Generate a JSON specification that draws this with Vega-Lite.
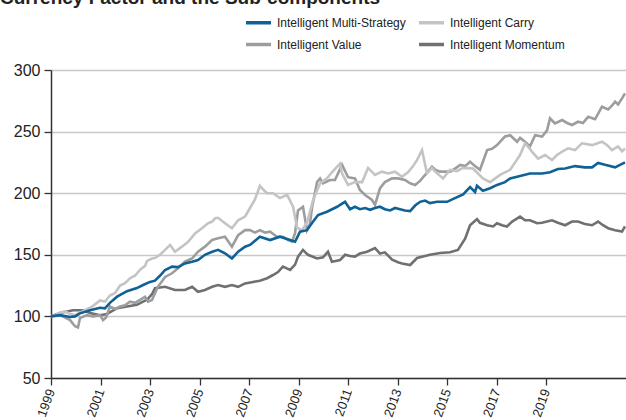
{
"$schema": "https://vega.github.io/schema/vega-lite/v6.json",
"width": 575, "height": 308,
"autosize": {"type": "none"},
"padding": {"left": 51, "top": 70, "right": 0, "bottom": 42},
"background": "white",
"title": {"text": "Currency Factor and the Sub-components", "anchor": "start", "frame": "group", "dx": -51, "offset": 0, "fontSize": 19, "fontWeight": "bold", "font": "Liberation Sans", "color": "#222222"},
"datasets": {
"m": [
{"d":1999.00,"v":100},{"d":1999.36,"v":102.7},{"d":1999.89,"v":105},{"d":2000.29,"v":105},{"d":2000.58,"v":102.7},{"d":2000.98,"v":101},{"d":2001.26,"v":102},{"d":2001.67,"v":106.7},{"d":2002.07,"v":108},{"d":2002.47,"v":109.4},{"d":2002.72,"v":112},{"d":2002.88,"v":113.5},{"d":2003.08,"v":118},{"d":2003.20,"v":122.8},{"d":2003.61,"v":124},{"d":2004.01,"v":121.4},{"d":2004.41,"v":121.4},{"d":2004.70,"v":124},{"d":2004.94,"v":120},{"d":2005.22,"v":121.4},{"d":2005.51,"v":124},{"d":2005.75,"v":125.5},{"d":2006.03,"v":124},{"d":2006.31,"v":125.5},{"d":2006.56,"v":124},{"d":2006.84,"v":126.8},{"d":2007.16,"v":128},{"d":2007.44,"v":129},{"d":2007.73,"v":131},{"d":2007.97,"v":133.6},{"d":2008.17,"v":136},{"d":2008.37,"v":140.4},{"d":2008.66,"v":137.7},{"d":2008.86,"v":142},{"d":2008.98,"v":148.5},{"d":2009.18,"v":154},{"d":2009.38,"v":150},{"d":2009.75,"v":147},{"d":2009.99,"v":148},{"d":2010.19,"v":152.5},{"d":2010.35,"v":144.4},{"d":2010.68,"v":145.8},{"d":2010.88,"v":150},{"d":2011.08,"v":149},{"d":2011.28,"v":148.5},{"d":2011.48,"v":151},{"d":2011.77,"v":152.5},{"d":2012.09,"v":155.5},{"d":2012.29,"v":151},{"d":2012.49,"v":152},{"d":2012.78,"v":146},{"d":2013.02,"v":144},{"d":2013.18,"v":143},{"d":2013.51,"v":141.7},{"d":2013.79,"v":147.4},{"d":2014.11,"v":149},{"d":2014.31,"v":150},{"d":2014.72,"v":151.5},{"d":2015.12,"v":152},{"d":2015.44,"v":154},{"d":2015.73,"v":163},{"d":2015.93,"v":174},{"d":2016.21,"v":179},{"d":2016.33,"v":176},{"d":2016.62,"v":174},{"d":2016.86,"v":173},{"d":2017.02,"v":175.6},{"d":2017.22,"v":174},{"d":2017.42,"v":173},{"d":2017.63,"v":177},{"d":2017.95,"v":181},{"d":2018.15,"v":178},{"d":2018.35,"v":178},{"d":2018.64,"v":175.6},{"d":2018.84,"v":176},{"d":2019.04,"v":177},{"d":2019.24,"v":178},{"d":2019.48,"v":176},{"d":2019.77,"v":174},{"d":2020.05,"v":177},{"d":2020.29,"v":177},{"d":2020.57,"v":175},{"d":2020.86,"v":174},{"d":2021.10,"v":177},{"d":2021.30,"v":174},{"d":2021.51,"v":171.6},{"d":2021.79,"v":170},{"d":2022.07,"v":168.8},{"d":2022.19,"v":173}
],
"val": [
{"d":1999.00,"v":100},{"d":1999.16,"v":101},{"d":1999.36,"v":101},{"d":1999.57,"v":99},{"d":1999.77,"v":97},{"d":1999.97,"v":92},{"d":2000.09,"v":91},{"d":2000.17,"v":98.6},{"d":2000.45,"v":101},{"d":2000.70,"v":100},{"d":2000.98,"v":101},{"d":2001.10,"v":97},{"d":2001.22,"v":99},{"d":2001.38,"v":108},{"d":2001.59,"v":106},{"d":2001.79,"v":108},{"d":2001.99,"v":109},{"d":2002.19,"v":112},{"d":2002.39,"v":111},{"d":2002.60,"v":113.5},{"d":2002.80,"v":116},{"d":2002.92,"v":112},{"d":2003.08,"v":113.3},{"d":2003.32,"v":124},{"d":2003.61,"v":132},{"d":2003.89,"v":135},{"d":2004.13,"v":139},{"d":2004.41,"v":144.4},{"d":2004.70,"v":147},{"d":2004.94,"v":152.5},{"d":2005.22,"v":156.6},{"d":2005.51,"v":162},{"d":2005.75,"v":163.4},{"d":2006.03,"v":164.7},{"d":2006.31,"v":156.6},{"d":2006.56,"v":166},{"d":2006.84,"v":170},{"d":2007.04,"v":170},{"d":2007.24,"v":168},{"d":2007.44,"v":170},{"d":2007.65,"v":168},{"d":2007.85,"v":168.8},{"d":2008.13,"v":164.7},{"d":2008.37,"v":164.7},{"d":2008.58,"v":162},{"d":2008.74,"v":160.7},{"d":2008.86,"v":167.5},{"d":2008.98,"v":186},{"d":2009.18,"v":189},{"d":2009.34,"v":170},{"d":2009.46,"v":175},{"d":2009.55,"v":189},{"d":2009.75,"v":209},{"d":2009.87,"v":212},{"d":2009.99,"v":208},{"d":2010.27,"v":210.7},{"d":2010.47,"v":210.7},{"d":2010.76,"v":223},{"d":2010.88,"v":218},{"d":2011.00,"v":213},{"d":2011.28,"v":212},{"d":2011.48,"v":202.6},{"d":2011.69,"v":198.5},{"d":2011.97,"v":194.5},{"d":2012.09,"v":190.5},{"d":2012.29,"v":204},{"d":2012.49,"v":209},{"d":2012.78,"v":212},{"d":2013.02,"v":212},{"d":2013.30,"v":210.7},{"d":2013.51,"v":208},{"d":2013.71,"v":206.7},{"d":2013.91,"v":210},{"d":2014.11,"v":214.8},{"d":2014.39,"v":221.5},{"d":2014.52,"v":219},{"d":2014.72,"v":217.5},{"d":2015.12,"v":217.5},{"d":2015.32,"v":220},{"d":2015.53,"v":223},{"d":2015.73,"v":222},{"d":2015.93,"v":225.6},{"d":2016.13,"v":222},{"d":2016.33,"v":219},{"d":2016.62,"v":235},{"d":2016.82,"v":236},{"d":2017.02,"v":239},{"d":2017.34,"v":246},{"d":2017.55,"v":247},{"d":2017.83,"v":241.8},{"d":2017.95,"v":245},{"d":2018.15,"v":241.8},{"d":2018.35,"v":238},{"d":2018.56,"v":247},{"d":2018.84,"v":246},{"d":2019.04,"v":251},{"d":2019.16,"v":260.8},{"d":2019.36,"v":256.7},{"d":2019.65,"v":259.4},{"d":2019.85,"v":257},{"d":2020.05,"v":255.4},{"d":2020.29,"v":258},{"d":2020.49,"v":257},{"d":2020.70,"v":262},{"d":2020.98,"v":260},{"d":2021.26,"v":270.2},{"d":2021.51,"v":268},{"d":2021.66,"v":271},{"d":2021.79,"v":274.3},{"d":2021.91,"v":272},{"d":2022.07,"v":277},{"d":2022.19,"v":281}
],
"c": [
{"d":1999.00,"v":100},{"d":1999.16,"v":101},{"d":1999.36,"v":103},{"d":1999.57,"v":104},{"d":1999.77,"v":102},{"d":1999.97,"v":101},{"d":2000.17,"v":103},{"d":2000.37,"v":105},{"d":2000.66,"v":108},{"d":2000.98,"v":113},{"d":2001.18,"v":112},{"d":2001.38,"v":117},{"d":2001.59,"v":119},{"d":2001.79,"v":125},{"d":2001.99,"v":127},{"d":2002.19,"v":131},{"d":2002.39,"v":133},{"d":2002.60,"v":138},{"d":2002.80,"v":141},{"d":2002.88,"v":145},{"d":2003.08,"v":147},{"d":2003.20,"v":147.4},{"d":2003.40,"v":150},{"d":2003.61,"v":154},{"d":2003.81,"v":158},{"d":2004.01,"v":152.5},{"d":2004.29,"v":156.6},{"d":2004.54,"v":160.6},{"d":2004.82,"v":167.4},{"d":2005.10,"v":171.5},{"d":2005.34,"v":175.6},{"d":2005.51,"v":177},{"d":2005.63,"v":179.6},{"d":2005.75,"v":180},{"d":2006.03,"v":175.6},{"d":2006.31,"v":171.5},{"d":2006.56,"v":178},{"d":2006.84,"v":181},{"d":2007.04,"v":188},{"d":2007.24,"v":195},{"d":2007.44,"v":206},{"d":2007.57,"v":203},{"d":2007.73,"v":200},{"d":2007.97,"v":200},{"d":2008.25,"v":196},{"d":2008.54,"v":198.7},{"d":2008.78,"v":189},{"d":2008.94,"v":172},{"d":2009.14,"v":170},{"d":2009.34,"v":176},{"d":2009.59,"v":194.5},{"d":2009.87,"v":208},{"d":2010.15,"v":212},{"d":2010.35,"v":217},{"d":2010.56,"v":221.5},{"d":2010.68,"v":224},{"d":2010.76,"v":216},{"d":2011.00,"v":206.7},{"d":2011.28,"v":209},{"d":2011.57,"v":209},{"d":2011.81,"v":220.5},{"d":2012.09,"v":214.8},{"d":2012.37,"v":217.5},{"d":2012.62,"v":216},{"d":2012.90,"v":217.5},{"d":2013.18,"v":213.4},{"d":2013.42,"v":217},{"d":2013.63,"v":222},{"d":2013.79,"v":227},{"d":2013.99,"v":235},{"d":2014.19,"v":216},{"d":2014.39,"v":220.5},{"d":2014.52,"v":217.5},{"d":2014.84,"v":212},{"d":2015.12,"v":219},{"d":2015.40,"v":218},{"d":2015.65,"v":220.5},{"d":2016.05,"v":220},{"d":2016.45,"v":212},{"d":2016.74,"v":209},{"d":2017.14,"v":214.8},{"d":2017.55,"v":219},{"d":2017.75,"v":225},{"d":2017.95,"v":231},{"d":2018.15,"v":240.5},{"d":2018.35,"v":236},{"d":2018.43,"v":233.7},{"d":2018.68,"v":228},{"d":2018.96,"v":231},{"d":2019.24,"v":227},{"d":2019.44,"v":231},{"d":2019.65,"v":233.7},{"d":2019.89,"v":236.4},{"d":2020.17,"v":235},{"d":2020.45,"v":240.5},{"d":2020.86,"v":239},{"d":2021.26,"v":241.8},{"d":2021.47,"v":239},{"d":2021.66,"v":235},{"d":2021.91,"v":238},{"d":2022.07,"v":234},{"d":2022.19,"v":236.4}
],
"b": [
{"d":1999.00,"v":100},{"d":1999.36,"v":101},{"d":1999.77,"v":99.5},{"d":1999.97,"v":100},{"d":2000.17,"v":102.5},{"d":2000.58,"v":105},{"d":2000.78,"v":106},{"d":2000.98,"v":107},{"d":2001.18,"v":106.5},{"d":2001.38,"v":111},{"d":2001.67,"v":116},{"d":2002.07,"v":120.5},{"d":2002.47,"v":123},{"d":2002.72,"v":125.5},{"d":2003.00,"v":128},{"d":2003.20,"v":129},{"d":2003.40,"v":133},{"d":2003.61,"v":137.7},{"d":2003.89,"v":140.4},{"d":2004.13,"v":140},{"d":2004.41,"v":143},{"d":2004.70,"v":144.4},{"d":2004.94,"v":145.8},{"d":2005.22,"v":150},{"d":2005.51,"v":152.5},{"d":2005.75,"v":154},{"d":2006.03,"v":151.2},{"d":2006.31,"v":147},{"d":2006.56,"v":152.5},{"d":2006.84,"v":156.6},{"d":2007.04,"v":158},{"d":2007.44,"v":164.7},{"d":2007.85,"v":162},{"d":2008.25,"v":164.7},{"d":2008.66,"v":162},{"d":2008.86,"v":160.6},{"d":2009.06,"v":168.8},{"d":2009.34,"v":170},{"d":2009.59,"v":177},{"d":2009.79,"v":182.3},{"d":2010.15,"v":185},{"d":2010.56,"v":189},{"d":2010.68,"v":190.5},{"d":2010.88,"v":193},{"d":2011.08,"v":187},{"d":2011.28,"v":189},{"d":2011.48,"v":187},{"d":2011.69,"v":188},{"d":2011.89,"v":186.5},{"d":2012.09,"v":188},{"d":2012.29,"v":189},{"d":2012.49,"v":187},{"d":2012.70,"v":186},{"d":2012.90,"v":188},{"d":2013.10,"v":187},{"d":2013.30,"v":186},{"d":2013.51,"v":185.5},{"d":2013.71,"v":190},{"d":2013.91,"v":193},{"d":2014.11,"v":194},{"d":2014.31,"v":192},{"d":2014.60,"v":193},{"d":2015.00,"v":193},{"d":2015.32,"v":196},{"d":2015.65,"v":199},{"d":2015.93,"v":205},{"d":2016.13,"v":201},{"d":2016.21,"v":206},{"d":2016.45,"v":202},{"d":2016.74,"v":204},{"d":2017.02,"v":206.7},{"d":2017.34,"v":209},{"d":2017.55,"v":212},{"d":2017.95,"v":214},{"d":2018.35,"v":216},{"d":2018.84,"v":216},{"d":2019.16,"v":217},{"d":2019.48,"v":219.6},{"d":2019.77,"v":220},{"d":2020.17,"v":222},{"d":2020.57,"v":221},{"d":2020.86,"v":221},{"d":2021.10,"v":224.5},{"d":2021.38,"v":223},{"d":2021.79,"v":221},{"d":2021.99,"v":223},{"d":2022.19,"v":225}
]
},
"layer": [
{"data": {"name": "m"}, "transform": [{"calculate": "'Momentum'", "as": "s"}], "mark": {"type": "line", "strokeWidth": 2.6, "clip": true}},
{"data": {"name": "val"}, "transform": [{"calculate": "'Value'", "as": "s"}], "mark": {"type": "line", "strokeWidth": 2.6, "clip": true}},
{"data": {"name": "c"}, "transform": [{"calculate": "'Carry'", "as": "s"}], "mark": {"type": "line", "strokeWidth": 2.6, "clip": true}},
{"data": {"name": "b"}, "transform": [{"calculate": "'Multi-Strategy'", "as": "s"}], "mark": {"type": "line", "strokeWidth": 2.6, "clip": true}}
],
"encoding": {
"x": {"field": "d", "type": "quantitative", "scale": {"domain": [1999, 2022.23], "nice": false, "zero": false},
  "axis": {"values": [1999,2001,2003,2005,2007,2009,2011,2013,2015,2017,2019], "format": "d", "title": null, "grid": false, "labelAngle": -70, "labelAlign": "right", "labelBaseline": "middle", "labelFontSize": 13, "labelFont": "Liberation Sans", "labelColor": "#222222", "labelPadding": 4, "tickSize": 7, "tickColor": "#333333", "tickWidth": 1.3, "domainColor": "#333333", "domainWidth": 1.5, "labelOverlap": false}},
"y": {"field": "v", "type": "quantitative", "scale": {"domain": [50, 300], "nice": false, "zero": false},
  "axis": {"values": [50,100,150,200,250,300], "title": null, "grid": true, "gridColor": "#c8c8c8", "gridWidth": 1.3, "labelFontSize": 16, "labelFont": "Liberation Sans", "labelColor": "#222222", "labelPadding": 4, "tickSize": 7, "tickColor": "#333333", "tickWidth": 1.3, "domainColor": "#333333", "domainWidth": 1.5}},
"color": {"field": "s", "type": "nominal",
  "scale": {"domain": ["Multi-Strategy", "Carry", "Value", "Momentum"], "range": ["#0f6196", "#c2c4c5", "#9b9d9f", "#6e7173"]},
  "legend": {"orient": "none", "direction": "horizontal", "legendX": 193, "legendY": -62, "columns": 2, "columnPadding": 6, "rowPadding": 0, "padding": 0, "title": null, "symbolType": "stroke", "symbolSize": 625, "symbolStrokeWidth": 3.5, "labelFontSize": 12, "labelFont": "Liberation Sans", "labelColor": "#222222", "labelOffset": 4, "labelExpr": "'Intelligent ' + datum.label"}}
},
"config": {"view": {"stroke": null}}
}
